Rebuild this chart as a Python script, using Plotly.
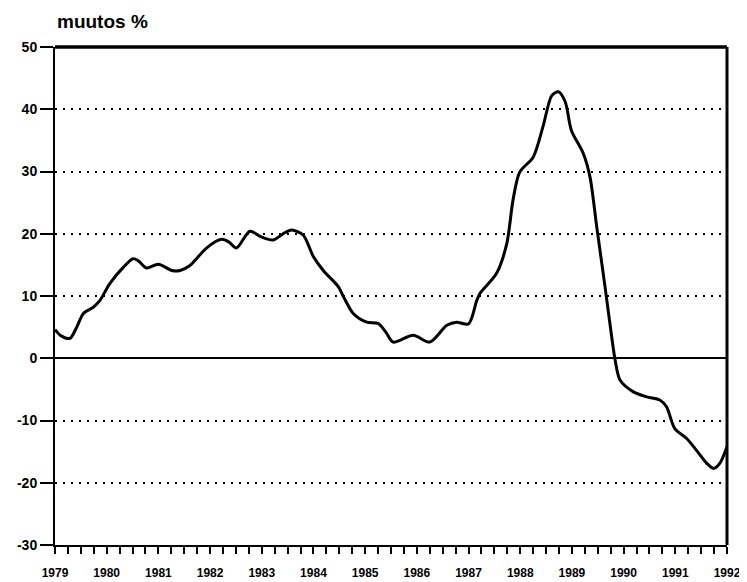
import plotly.graph_objects as go

# (decimal year, change %)
years = [1979.00, 1979.12, 1979.29, 1979.42, 1979.55, 1979.74, 1979.87, 1980.06, 1980.32, 1980.51,
         1980.62, 1980.77, 1981.00, 1981.26, 1981.42, 1981.61, 1981.93, 1982.22, 1982.36, 1982.51,
         1982.77, 1982.99, 1983.22, 1983.45, 1983.58, 1983.80, 1984.00, 1984.19, 1984.48, 1984.58,
         1984.77, 1985.03, 1985.25, 1985.40, 1985.54, 1985.93, 1986.25, 1986.58, 1986.77, 1987.00,
         1987.16, 1987.22, 1987.54, 1987.74, 1987.86, 1987.99, 1988.25, 1988.44, 1988.61, 1988.74,
         1988.87, 1988.99, 1989.22, 1989.35, 1989.48, 1989.64, 1989.77, 1989.83, 1989.93, 1990.19,
         1990.45, 1990.70, 1990.83, 1990.99, 1991.22, 1991.41, 1991.61, 1991.74, 1991.86, 1992.00]
change = [4.6, 3.6, 3.2, 5.0, 7.2, 8.2, 9.3, 12.0, 14.6, 16.0,
          15.6, 14.5, 15.1, 14.1, 14.1, 14.9, 17.7, 19.1, 18.7, 17.7,
          20.4, 19.5, 19.0, 20.2, 20.6, 19.8, 16.3, 14.1, 11.5, 9.9,
          7.2, 5.8, 5.6, 4.2, 2.6, 3.7, 2.6, 5.3, 5.8, 5.5,
          9.3, 10.4, 13.6, 18.4, 25.4, 29.9, 32.3, 37.2, 42.2, 42.8,
          41.2, 36.6, 32.9, 29.1, 21.1, 11.5, 3.4, 0.0, -3.5, -5.4,
          -6.2, -6.7, -7.8, -11.3, -12.9, -14.8, -16.9, -17.7, -16.9, -14.2]

year_ticks = list(range(1979, 1993))
year_labels = [str(y) for y in year_ticks]
y_ticks = [50, 40, 30, 20, 10, 0, -10, -20, -30]
y_labels = ["50", "40", "30", "20", "10", "0", "-10", "-20", "-30"]

FONT = "Liberation Sans, Arial, Helvetica, sans-serif"

fig = go.Figure()
fig.add_trace(go.Scatter(
    x=years, y=change, mode="lines",
    line=dict(color="black", width=3, shape="spline", smoothing=0.8),
    hoverinfo="skip", showlegend=False, cliponaxis=False,
))

# page body has an 8px margin, so the figure is sized/offset to compensate
fig.update_layout(
    width=739, height=574,
    margin=dict(l=47, r=20, t=39, b=37),
    paper_bgcolor="white", plot_bgcolor="white",
    font=dict(family=FONT, color="black"),
    xaxis=dict(
        range=[1979, 1992], tickvals=year_ticks, ticktext=year_labels,
        ticks="outside", ticklen=7, tickwidth=2, tickcolor="black",
        minor=dict(dtick=0.25, tick0=1979, ticks="outside", ticklen=7, tickwidth=2,
                   tickcolor="black", showgrid=False),
        showgrid=False, zeroline=False, automargin=False,
        showline=True, linecolor="black", linewidth=1.5,
        tickfont=dict(family=FONT, size=12, color="black", weight="bold"),
        ticklabelstandoff=9,
    ),
    yaxis=dict(
        range=[-30, 50], tickvals=y_ticks, ticktext=y_labels,
        ticks="outside", ticklen=13, tickwidth=2, tickcolor="black",
        showgrid=True, gridcolor="black", gridwidth=2, griddash="2px,6px",
        zeroline=True, zerolinecolor="black", zerolinewidth=1.5, automargin=False,
        showline=True, linecolor="black", linewidth=2,
        tickfont=dict(family=FONT, size=14, color="black", weight="bold"),
    ),
    shapes=[
        dict(type="line", xref="paper", yref="paper", x0=0, x1=1, y0=1, y1=1,
             line=dict(color="black", width=3.5)),
        dict(type="line", xref="paper", yref="paper", x0=1, x1=1, y0=0, y1=1,
             line=dict(color="black", width=3)),
    ],
    annotations=[
        dict(text="muutos %", xref="paper", yref="paper", x=0, y=1 + 26 / 498,
             xanchor="left", yanchor="middle", showarrow=False,
             font=dict(family=FONT, size=19, color="black", weight="bold")),
    ],
)

fig.write_html("out.html")
